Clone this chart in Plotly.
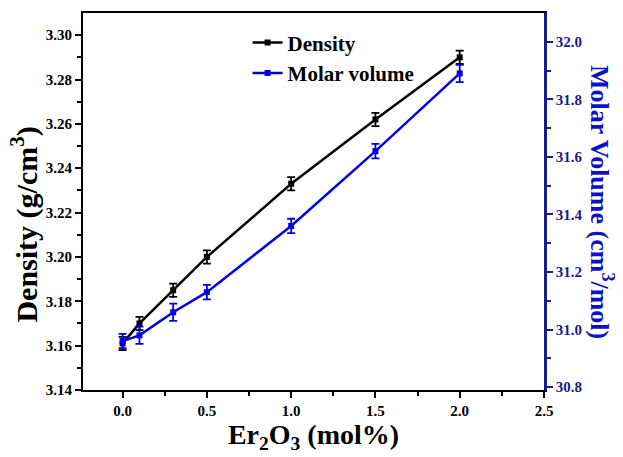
import plotly.graph_objects as go

er2o3 = [0.0, 0.1, 0.3, 0.5, 1.0, 1.5, 2.0]
density = [3.161, 3.170, 3.185, 3.200, 3.233, 3.262, 3.290]
density_err = [0.003, 0.003, 0.003, 0.003, 0.003, 0.003, 0.003]
molar_volume = [30.96, 30.98, 31.06, 31.13, 31.36, 31.62, 31.89]
molar_err = [0.025, 0.03, 0.03, 0.025, 0.025, 0.025, 0.03]

x_ticks = [0, 0.5, 1.0, 1.5, 2.0, 2.5]
y_ticks = [3.14, 3.16, 3.18, 3.20, 3.22, 3.24, 3.26, 3.28, 3.30]
y2_ticks = [30.8, 31.0, 31.2, 31.4, 31.6, 31.8, 32.0]

FONT = "Liberation Serif"
BLUE = "#0000e0"
NAVY = "#1a1a8c"

fig = go.Figure()
fig.add_trace(go.Scatter(
    x=er2o3, y=density, name="<b>Density</b>", mode="lines+markers",
    line=dict(color="black", width=2.5),
    marker=dict(symbol="square", size=6, color="black"),
    error_y=dict(type="data", array=density_err, color="black", thickness=1.8, width=4),
))
fig.add_trace(go.Scatter(
    x=er2o3, y=molar_volume, name="<b>Molar volume</b>", mode="lines+markers", yaxis="y2",
    line=dict(color=BLUE, width=2.5),
    marker=dict(symbol="square", size=6, color=BLUE),
    error_y=dict(type="data", array=molar_err, color=BLUE, thickness=1.8, width=4),
))

fig.update_layout(
    width=623, height=457,
    margin=dict(l=83, r=79, t=13, b=67),
    paper_bgcolor="white", plot_bgcolor="white",
    font=dict(family=FONT, color="black"),
    showlegend=True,
    legend=dict(x=0.357, y=0.975, xanchor="left", yanchor="top", bgcolor="rgba(0,0,0,0)",
                font=dict(size=21, family=FONT, color="black"), tracegroupgap=0, itemwidth=30),
    xaxis=dict(
        range=[-0.235, 2.5], tickmode="array", tickvals=x_ticks,
        ticktext=["<b>%.1f</b>" % v for v in x_ticks],
        ticks="outside", ticklen=6, tickwidth=2, tickcolor="black",
        minor=dict(tickvals=[0.25, 0.75, 1.25, 1.75, 2.25], ticks="outside", ticklen=4, tickwidth=2, tickcolor="black"),
        showline=True, linecolor="black", linewidth=2, mirror=True,
        showgrid=False, zeroline=False,
        tickfont=dict(size=15, family=FONT, color="black"),
        title=dict(text="<b>Er<sub>2</sub>O<sub>3</sub> (mol%)</b>", font=dict(size=28, family=FONT), standoff=6),
    ),
    yaxis=dict(
        range=[3.14, 3.31], tickmode="array", tickvals=y_ticks,
        ticktext=["<b>%.2f</b>" % v for v in y_ticks],
        ticks="outside", ticklen=6, tickwidth=2, tickcolor="black",
        minor=dict(tickvals=[3.15, 3.17, 3.19, 3.21, 3.23, 3.25, 3.27, 3.29], ticks="outside", ticklen=4, tickwidth=2, tickcolor="black"),
        showline=True, linecolor="black", linewidth=2,
        showgrid=False, zeroline=False,
        tickfont=dict(size=15, family=FONT, color="black"),
    ),
    yaxis2=dict(
        overlaying="y", side="right", anchor="x",
        range=[30.79, 32.1], tickmode="array", tickvals=y2_ticks,
        ticktext=["<b>%.1f</b>" % v for v in y2_ticks],
        ticks="outside", ticklen=6, tickwidth=2, tickcolor=NAVY,
        minor=dict(tickvals=[30.9, 31.1, 31.3, 31.5, 31.7, 31.9], ticks="outside", ticklen=4, tickwidth=2, tickcolor=NAVY),
        showline=True, linecolor=NAVY, linewidth=2.5,
        showgrid=False, zeroline=False,
        tickfont=dict(size=15, family=FONT, color=NAVY),
    ),
    annotations=[
        dict(
            text="<b>Density (g/cm<sup>3</sup>)</b>", textangle=-90,
            xref="paper", yref="paper", x=-0.127, y=0.44, xanchor="center", yanchor="middle",
            showarrow=False, font=dict(size=30, family=FONT, color="black"),
        ),
        dict(
            text="<b>Molar Volume (cm<sup>3</sup>/mol)</b>", textangle=90,
            xref="paper", yref="paper", x=1.125, y=0.5, xanchor="center", yanchor="middle",
            showarrow=False, font=dict(size=26, family=FONT, color="#1010c8"),
        ),
    ],
)

fig.write_html("out.html")
